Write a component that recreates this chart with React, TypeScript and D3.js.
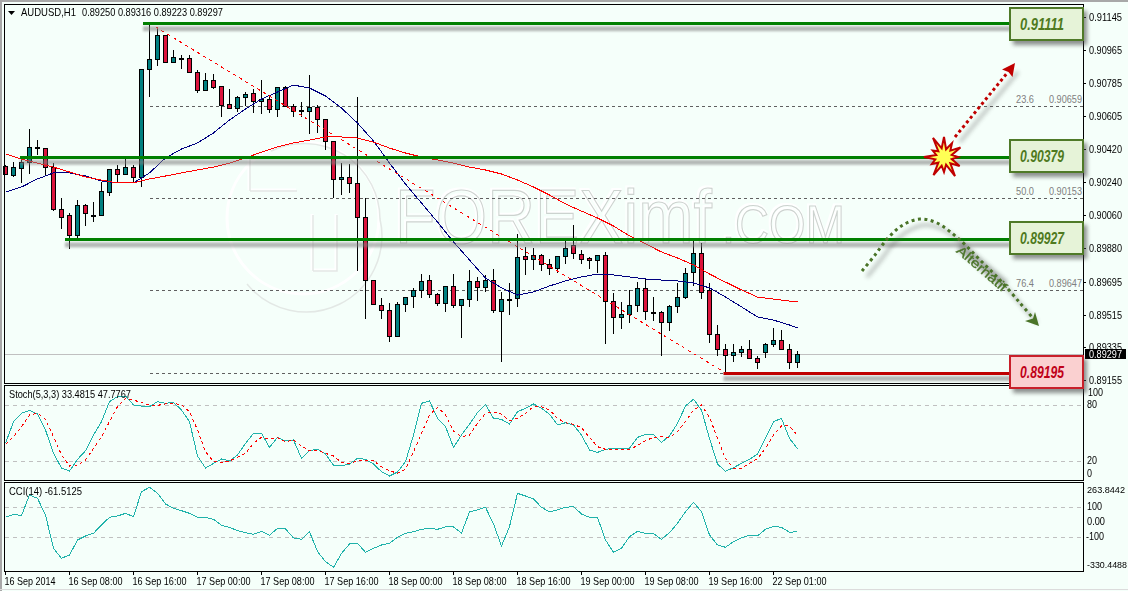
// AUDUSD H1 terminal chart with hand drawn levels
import * as d3 from 'd3'
import React from 'react'

const opens = [0.90329,0.90280,0.90318,0.90351,0.90433,0.90427,0.90323,0.90093,0.90060,0.89951,0.90115,0.90060,0.90060,0.90186,0.90312,0.90285,0.90323,0.90269,0.90860,0.90915,0.91046,0.90898,0.90920,0.90920,0.90844,0.90745,0.90800,0.90767,0.90668,0.90646,0.90707,0.90729,0.90685,0.90696,0.90641,0.90761,0.90657,0.90636,0.90630,0.90652,0.90586,0.90466,0.90258,0.90269,0.90236,0.90049,0.89704,0.89568,0.89540,0.89398,0.89573,0.89617,0.89650,0.89704,0.89628,0.89578,0.89672,0.89568,0.89600,0.89699,0.89666,0.89704,0.89535,0.89600,0.89606,0.89836,0.89819,0.89841,0.89792,0.89770,0.89836,0.89896,0.89847,0.89825,0.89814,0.89841,0.89589,0.89502,0.89518,0.89568,0.89661,0.89529,0.89529,0.89474,0.89562,0.89611,0.89748,0.89852,0.89650,0.89409,0.89327,0.89294,0.89310,0.89327,0.89277,0.89310,0.89354,0.89376,0.89327,0.89255]
const highs = [0.90334,0.90351,0.90378,0.90531,0.90471,0.90427,0.90345,0.90154,0.90071,0.90143,0.90121,0.90132,0.90241,0.90312,0.90334,0.90378,0.90334,0.90860,0.91101,0.91090,0.91046,0.90964,0.90937,0.90937,0.90855,0.90838,0.90833,0.90767,0.90751,0.90712,0.90734,0.90751,0.90800,0.90718,0.90761,0.90767,0.90668,0.90679,0.90827,0.90663,0.90586,0.90466,0.90345,0.90340,0.90707,0.90154,0.89704,0.89606,0.89578,0.89584,0.89611,0.89661,0.89737,0.89732,0.89633,0.89672,0.89737,0.89600,0.89759,0.89721,0.89732,0.89765,0.89639,0.89688,0.89956,0.89885,0.89880,0.89847,0.89819,0.89836,0.89918,0.90006,0.89869,0.89830,0.89841,0.89858,0.89633,0.89584,0.89650,0.89693,0.89710,0.89611,0.89535,0.89568,0.89688,0.89770,0.89924,0.89907,0.89688,0.89458,0.89354,0.89354,0.89343,0.89376,0.89288,0.89359,0.89441,0.89431,0.89354,0.89316]
const lows = [0.90280,0.90269,0.90236,0.90285,0.90389,0.90280,0.90082,0.89984,0.89874,0.89935,0.90000,0.90022,0.90060,0.90165,0.90236,0.90280,0.90236,0.90214,0.90707,0.90877,0.90898,0.90893,0.90860,0.90844,0.90729,0.90745,0.90751,0.90597,0.90646,0.90625,0.90657,0.90619,0.90614,0.90619,0.90597,0.90652,0.90597,0.90597,0.90504,0.90510,0.90416,0.90154,0.90170,0.90181,0.89754,0.89491,0.89573,0.89491,0.89365,0.89398,0.89529,0.89551,0.89606,0.89606,0.89562,0.89529,0.89551,0.89387,0.89557,0.89589,0.89639,0.89524,0.89255,0.89513,0.89557,0.89732,0.89759,0.89754,0.89732,0.89743,0.89792,0.89819,0.89792,0.89765,0.89743,0.89354,0.89409,0.89436,0.89469,0.89529,0.89485,0.89480,0.89288,0.89425,0.89524,0.89600,0.89672,0.89600,0.89359,0.89288,0.89195,0.89255,0.89283,0.89277,0.89217,0.89277,0.89338,0.89327,0.89217,0.89223]
const closes = [0.90285,0.90323,0.90351,0.90433,0.90427,0.90323,0.90093,0.90049,0.89951,0.90115,0.90071,0.90060,0.90192,0.90312,0.90285,0.90323,0.90269,0.90860,0.90915,0.91046,0.90898,0.90926,0.90920,0.90844,0.90745,0.90800,0.90761,0.90663,0.90646,0.90707,0.90723,0.90685,0.90696,0.90641,0.90761,0.90657,0.90630,0.90636,0.90652,0.90586,0.90466,0.90258,0.90269,0.90236,0.90049,0.89704,0.89573,0.89540,0.89398,0.89573,0.89611,0.89650,0.89699,0.89628,0.89578,0.89672,0.89568,0.89600,0.89699,0.89666,0.89704,0.89540,0.89600,0.89600,0.89830,0.89819,0.89841,0.89792,0.89770,0.89836,0.89880,0.89852,0.89819,0.89814,0.89841,0.89589,0.89502,0.89518,0.89568,0.89661,0.89535,0.89529,0.89474,0.89562,0.89611,0.89743,0.89852,0.89639,0.89409,0.89327,0.89294,0.89310,0.89327,0.89277,0.89255,0.89354,0.89376,0.89327,0.89255,0.89297]

// moving averages, read every second bar plus the last one
const maBars = [...d3.range(0, 100, 2), 99]
const fastMa = [0.90186,0.90214,0.90258,0.90291,0.90291,0.90274,0.90247,0.90236,0.90236,0.90291,0.90373,0.90422,0.90455,0.90510,0.90581,0.90641,0.90696,0.90734,0.90772,0.90756,0.90712,0.90646,0.90564,0.90466,0.90345,0.90230,0.90126,0.90022,0.89913,0.89814,0.89715,0.89661,0.89622,0.89639,0.89672,0.89699,0.89721,0.89737,0.89732,0.89721,0.89710,0.89704,0.89699,0.89688,0.89661,0.89611,0.89557,0.89502,0.89485,0.89458,0.89442]
const slowMa = [0.90395,0.90367,0.90345,0.90323,0.90296,0.90269,0.90252,0.90236,0.90236,0.90258,0.90274,0.90291,0.90307,0.90323,0.90345,0.90373,0.90405,0.90433,0.90455,0.90471,0.90488,0.90488,0.90482,0.90460,0.90427,0.90400,0.90378,0.90362,0.90345,0.90323,0.90307,0.90285,0.90252,0.90214,0.90170,0.90121,0.90082,0.90044,0.90000,0.89946,0.89902,0.89858,0.89825,0.89787,0.89737,0.89693,0.89650,0.89611,0.89600,0.89589,0.89584]

const stochMain = [39.3,62.5,71.5,74.7,70.7,53.6,28.6,12.8,9.6,22.1,31.4,48.2,62.5,84,89.3,90,80.4,79.3,78.6,84,82.2,83.2,75,62.5,25.7,12.8,17.8,22.5,20.4,26.8,39.3,50,50,35,45.7,41.8,42.9,23.2,31.4,32.9,27.9,15.7,15.4,17.1,23.2,22.1,17.1,8.9,4.3,8.6,19.6,48.2,82.2,84.7,66.1,57.2,35,48.2,59.7,72.2,81.1,66.1,65,60,73.2,76.8,81.5,76.8,70.4,59,61.4,59,48.2,32.1,29.6,32.9,34,33.6,34,45.7,48.9,48.9,40.4,47.2,60.7,79.3,86.5,75,44.6,17.1,9.3,13.2,17.8,22.1,27.9,44.6,62.5,66.1,44.6,33.48]
const stochSignal = [38.2,46.4,57.2,69.7,71.5,65,46.4,26.8,15,16.1,21.4,33.9,46.4,62.5,78.6,87.5,85.7,82.9,80.4,80,81.5,82.2,80.4,73.2,53.6,30.4,19.6,18.9,20.4,24.3,28.6,39.3,45.7,44.3,45.4,41.1,42.9,36.4,31.4,32.1,28.6,25.7,18.9,17.8,20.4,21.4,20.7,14.3,10,7.1,11.4,30.4,50,69.7,77.9,69.7,52.5,46.4,48.2,60.7,71.5,72.9,70.7,63.6,66.1,71.5,78.6,78.6,75,66.1,61.4,59.7,56.1,45.7,35.7,32.9,32.9,32.9,32.9,36.8,42.2,45.7,46.4,45.7,51.8,62.5,75,80.4,67.2,44.6,23.2,12.5,12.5,17.8,22.9,33.9,48.2,57.9,57.9,47.77]
const cciValues = [33.2,53.2,44.3,182,159.9,48.8,-173.4,-240,-217.9,-117.9,-91.2,-73.4,-17.9,33.2,42.1,59.9,37.7,204.3,233.2,193.2,122.1,93.2,77.7,59.9,33.2,33.2,19.9,-20.1,-33.4,-55.6,-69,-80.1,-60.1,-86.8,-40.1,-44.5,-104.5,-113.4,-62.3,-195.6,-262.3,-300,-206.7,-144.5,-140.1,-200,-173.4,-151.2,-140.1,-100.1,-73.4,-62.3,-46.8,-40.1,-46.8,-31.2,-31.2,-71.2,68.8,82.1,99.9,-11.2,-157.9,-29,193.2,175.4,155.4,99.9,68.8,82.1,99.9,104.3,55.5,33.2,33.2,-117.9,-200,-173.4,-95.6,-60.1,-73.4,-75.6,-113.4,-69,-6.8,71,133.2,71,-84.5,-151.2,-166.7,-129,-102.3,-86.8,-91.2,-46.8,-26.8,-33.4,-66.8,-61.5]

const priceTicks = ['0.91145','0.90965','0.90785','0.90605','0.90420','0.90240','0.90060','0.89880','0.89695','0.89515','0.89335','0.89155']
const timeBars = d3.range(0, 100, 8)
const timeLabels = ['16 Sep 2014','16 Sep 08:00','16 Sep 16:00','17 Sep 00:00','17 Sep 08:00','17 Sep 16:00','18 Sep 00:00','18 Sep 08:00','18 Sep 16:00','19 Sep 00:00','19 Sep 08:00','19 Sep 16:00','22 Sep 01:00']
const fibLevels = [0.90659, 0.90153, 0.89647, 0.89195]
const fibNames = ['23.6', '50.0', '76.4', '']
const greenLevels = [0.91111, 0.90379, 0.89927]
const greenStarts = [143, 20, 65]
const redLevel = 0.89195
const lastPrice = 0.89297
const burstRadii = [20,8,16,9,19,8,14,8,18,9,22,8,15,9,21,8,14,9,20,8,13,8,22,9]

const WIDTH = 1128
const HEIGHT = 591
const AXIS_X = 1083

const x = d3.scaleLinear().domain([0, 99]).range([5.5, 797.5])
const y = d3.scaleLinear().domain([0.91145, 0.89155]).range([17, 380.3])
const yStoch = d3.scaleLinear().domain([0, 100]).range([480, 386.7])
const yCci = d3.scaleLinear().domain([-100, 100]).range([537.3, 507.3])

const FONT = '"Liberation Sans", Arial, sans-serif'

const lineOf = (scale: any, values: number[], bars?: number[]) =>
  d3.line<number>()
    .x((d, i) => x(bars ? bars[i] : i))
    .y((d) => scale(d))(values) as string

const Label = ({ tx, ty, len, children, fill = '#000', size = 11, anchor = 'start' }: any) => (
  <text x={tx} y={ty} fill={fill} fontSize={size} fontFamily={FONT} textAnchor={anchor}
    textLength={len} lengthAdjust="spacingAndGlyphs">{children}</text>
)

// the price box on the right end of a level line
const LevelBox = ({ price, top, fill, border, color }: any) => (
  <g>
    <rect x={1013} y={top + 4} width={74} height={34} fill="#444" opacity={0.6} filter="url(#blur)" />
    <rect x={1010} y={top + 1} width={73} height={32} fill={fill} stroke={border} strokeWidth={2} />
    <text x={1042} y={top + 23} fill={color} fontSize={16} fontWeight="bold" fontStyle="italic"
      fontFamily={FONT} textAnchor="middle" textLength={44} lengthAdjust="spacingAndGlyphs">{price}</text>
  </g>
)

const LevelLine = ({ price, start, color }: any) => (
  <g>
    <rect x={start} y={y(price) + 3} width={1010 - start} height={5} fill="#808080" opacity={0.55} filter="url(#blurSmall)" />
    <rect x={start} y={Math.round(y(price)) - 1} width={1010 - start} height={3} fill={color} />
  </g>
)

const greenCurve = d3.line().curve(d3.curveCatmullRom)([[862,271],[875,255],[888,238],[903,225],[920,219],[937,223],[960,240],[980,260],[1000,280],[1020,303],[1032,317]]) as string
const burstPath = d3.lineRadial<number>()
  .angle((d, i) => (i * 2 * Math.PI) / burstRadii.length)
  .radius((d) => d)
  .curve(d3.curveLinearClosed)(burstRadii) as string

const Watermark = () => (
  <g fill="none">
    <g stroke="#fff" strokeWidth={3}>
      <circle cx={303} cy={218} r={76} />
      <path d="M249 190 H296 M249 190 V158 H340 M312 270 V214 M312 270 H336 V214" />
    </g>
    <g stroke="#e3e8e5" strokeWidth={1.5} transform="translate(1,1)">
      <path d="M246 283 A76 76 0 0 0 379 218 A76 76 0 0 0 270 150" />
      <path d="M249 190 H296 M249 190 V158 H340 M312 270 V214 M312 270 H336 V214" />
    </g>
    <g fontFamily={FONT} stroke="#ccd3cf" strokeWidth={1.2} filter="url(#emboss)">
      <text x={395} y={243} fontSize={76} textLength={317} lengthAdjust="spacingAndGlyphs">FOREXimf</text>
      <text x={722} y={243} fontSize={54} textLength={123} lengthAdjust="spacingAndGlyphs">.COM</text>
    </g>
  </g>
)

const App = () => {
  return (
    <svg width={WIDTH} height={HEIGHT} style={{ position: 'fixed', left: 0, top: 0, display: 'block' }}>
      <defs>
        <filter id="blur" x="-30%" y="-30%" width="160%" height="160%"><feGaussianBlur stdDeviation="2" /></filter>
        <filter id="blurSmall" x="-5%" y="-100%" width="110%" height="300%"><feGaussianBlur stdDeviation="1.3" /></filter>
        {/* white copy of the watermark up and left of the grey one */}
        <filter id="emboss" x="-5%" y="-10%" width="110%" height="120%">
          <feMorphology in="SourceAlpha" operator="dilate" radius="1" result="fat" />
          <feOffset in="fat" dx="-1" dy="-1" result="moved" />
          <feFlood floodColor="#fff" />
          <feComposite in2="moved" operator="in" result="white" />
          <feMerge>
            <feMergeNode in="white" />
            <feMergeNode in="SourceGraphic" />
          </feMerge>
        </filter>
      </defs>
      <rect width={WIDTH} height={HEIGHT} fill="#f5fffa" />
      <path d={`M1 ${HEIGHT} V1 H${WIDTH}`} fill="none" stroke="#a8a8a8" strokeWidth={2} />
      <path d={`M0 ${HEIGHT - 1.5} H${WIDTH}`} stroke="#dcdcdc" />

      <Watermark />

      {/* indicator levels */}
      <g stroke="#c0c0c0" strokeDasharray="4 4" shapeRendering="crispEdges">
        {[80, 20].map((v) => <line key={v} x1={5} x2={AXIS_X} y1={Math.round(yStoch(v)) + 0.5} y2={Math.round(yStoch(v)) + 0.5} />)}
        {[100, -100].map((v) => <line key={v} x1={5} x2={AXIS_X} y1={Math.round(yCci(v)) + 0.5} y2={Math.round(yCci(v)) + 0.5} />)}
      </g>

      {/* last price and fibo levels */}
      <line x1={5} x2={AXIS_X} y1={Math.round(y(lastPrice)) + 0.5} y2={Math.round(y(lastPrice)) + 0.5} stroke="#c0c0c0" />
      <g stroke="#606060" strokeDasharray="3 3" shapeRendering="crispEdges">
        {fibLevels.map((v) => <line key={v} x1={x(18)} x2={AXIS_X} y1={Math.round(y(v)) + 0.5} y2={Math.round(y(v)) + 0.5} />)}
      </g>
      {fibLevels.map((v, i) => fibNames[i] && (
        <g key={v}>
          <Label tx={1016} ty={y(v) - 3} len={18} fill="#808080" size={11}>{fibNames[i]}</Label>
          <Label tx={1049} ty={y(v) - 3} len={33} fill="#808080" size={11}>{v.toFixed(5)}</Label>
        </g>
      ))}

      {/* candles */}
      <g shapeRendering="crispEdges">
        {opens.map((o, i) => {
          const top = Math.round(y(Math.max(o, closes[i])))
          const bottom = Math.round(y(Math.min(o, closes[i])))
          return (
            <g key={i}>
              <line x1={x(i)} x2={x(i)} y1={y(highs[i])} y2={y(lows[i])} stroke="#000" />
              <rect x={x(i) - 2} y={top + 0.5} width={4} height={Math.max(bottom - top, 0.5)}
                fill={closes[i] < o ? '#dc143c' : '#008080'} stroke="#000" />
            </g>
          )
        })}
      </g>

      {/* moving averages and the fibo trend line */}
      <g fill="none" shapeRendering="crispEdges">
        <path d={lineOf(y, fastMa, maBars)} stroke="#000080" />
        <path d={lineOf(y, slowMa, maBars)} stroke="#ff0000" />
        <line x1={x(18)} y1={y(0.91111)} x2={x(90)} y2={y(0.89195)} stroke="#ff0000" strokeDasharray="3 4" />
      </g>

      {/* level lines */}
      {greenLevels.map((v, i) => <LevelLine key={v} price={v} start={greenStarts[i]} color="#008000" />)}
      <LevelLine price={redLevel} start={x(90) - 2} color="#c00000" />

      {/* hand drawn arrows */}
      <g filter="url(#blur)" opacity={0.4}>
        <path d="M960 142 L1018 72" stroke="#555" strokeWidth={3} fill="none" />
        <path d={greenCurve} transform="translate(5,6)" stroke="#555" strokeWidth={3} fill="none" />
        <path d="M960 246 L1005 285" stroke="#333" strokeWidth={9} fill="none" />
      </g>
      <path d="M955 137 L1008 72" stroke="#c00000" strokeWidth={3} strokeDasharray="3 3" fill="none" />
      <polygon points="1015,63 1002,69.5 1008.5,72 1012.5,77" fill="#c00000" />
      <path d={burstPath} transform="translate(944,157)" fill="#ffff55" stroke="#c00000" strokeWidth={2} />
      <path d={greenCurve} stroke="#4a7428" strokeWidth={3} strokeDasharray="3 3.5" fill="none" />
      <polygon points="1039,326 1025,321 1033,318.5 1035,312" fill="#4a7428" />
      <text transform="translate(979,272) rotate(41)" fontFamily={FONT} fontSize={13} fill="#4a7428" stroke="#4a7428" strokeWidth={0.3}
        textAnchor="middle" textLength={62} lengthAdjust="spacingAndGlyphs">Alternatif</text>

      {/* stochastic and cci */}
      <g fill="none" shapeRendering="crispEdges">
        <path d={lineOf(yStoch, stochMain)} stroke="#20b2aa" />
        <path d={lineOf(yStoch, stochSignal)} stroke="#ff0000" strokeDasharray="3 3" />
        <path d={lineOf(yCci, cciValues)} stroke="#20b2aa" />
      </g>

      {/* panel frames */}
      <g fill="none" stroke="#000" shapeRendering="crispEdges">
        <rect x={4.5} y={4.5} width={AXIS_X - 4.5} height={379} />
        <rect x={4.5} y={385.5} width={AXIS_X - 4.5} height={95} />
        <rect x={4.5} y={482.5} width={AXIS_X - 4.5} height={89} />
      </g>

      {/* right axes */}
      {priceTicks.map((t) => (
        <g key={t}>
          <line x1={AXIS_X} x2={AXIS_X + 3} y1={Math.round(y(+t)) + 0.5} y2={Math.round(y(+t)) + 0.5} stroke="#000" />
          <Label tx={1089} ty={y(+t) + 4} len={33}>{t}</Label>
        </g>
      ))}
      <rect x={1085} y={349} width={41} height={10} fill="#000" />
      <Label tx={1089} ty={y(lastPrice) + 4} len={33} fill="#fff">{lastPrice.toFixed(5)}</Label>

      <Label tx={1088} ty={396} len={15}>100</Label>
      <Label tx={1087} ty={408} len={10}>80</Label>
      <Label tx={1087} ty={464} len={10}>20</Label>
      <Label tx={1087} ty={477} len={5}>0</Label>
      <Label tx={1087} ty={493} len={38} size={9.5}>263.8442</Label>
      <Label tx={1087} ty={510} len={15}>100</Label>
      <Label tx={1087} ty={525} len={18}>0.00</Label>
      <Label tx={1086} ty={540} len={18}>-100</Label>
      <Label tx={1087} ty={568} len={40} size={9}>-330.4488</Label>

      {/* time axis */}
      {timeBars.map((b, i) => (
        <g key={b}>
          <line x1={x(b)} x2={x(b)} y1={571} y2={575} stroke="#000" />
          <Label tx={x(b) - 1} ty={585} len={i === 0 ? 51 : 54}>{timeLabels[i]}</Label>
        </g>
      ))}

      {/* titles */}
      <polygon points="8,11 15,11 11.5,15" fill="#000" />
      <Label tx={21} ty={16} len={55}>AUDUSD,H1</Label>
      <Label tx={82} ty={16} len={141}>0.89250 0.89316 0.89223 0.89297</Label>
      <Label tx={9} ty={398} len={122}>Stoch(5,3,3) 33.4815 47.7767</Label>
      <Label tx={9} ty={495} len={73}>CCI(14) -61.5125</Label>

      {/* price boxes go on top of the axis line */}
      <LevelBox price="0.91111" top={7} fill="#e6f3d8" border="#4f7a28" color="#4f7a1e" />
      <LevelBox price="0.90379" top={139} fill="#e6f3d8" border="#4f7a28" color="#4f7a1e" />
      <LevelBox price="0.89927" top={221} fill="#e6f3d8" border="#4f7a28" color="#4f7a1e" />
      <LevelBox price="0.89195" top={355} fill="#fad0d0" border="#c8202a" color="#c00018" />
    </svg>
  )
}

export default App
